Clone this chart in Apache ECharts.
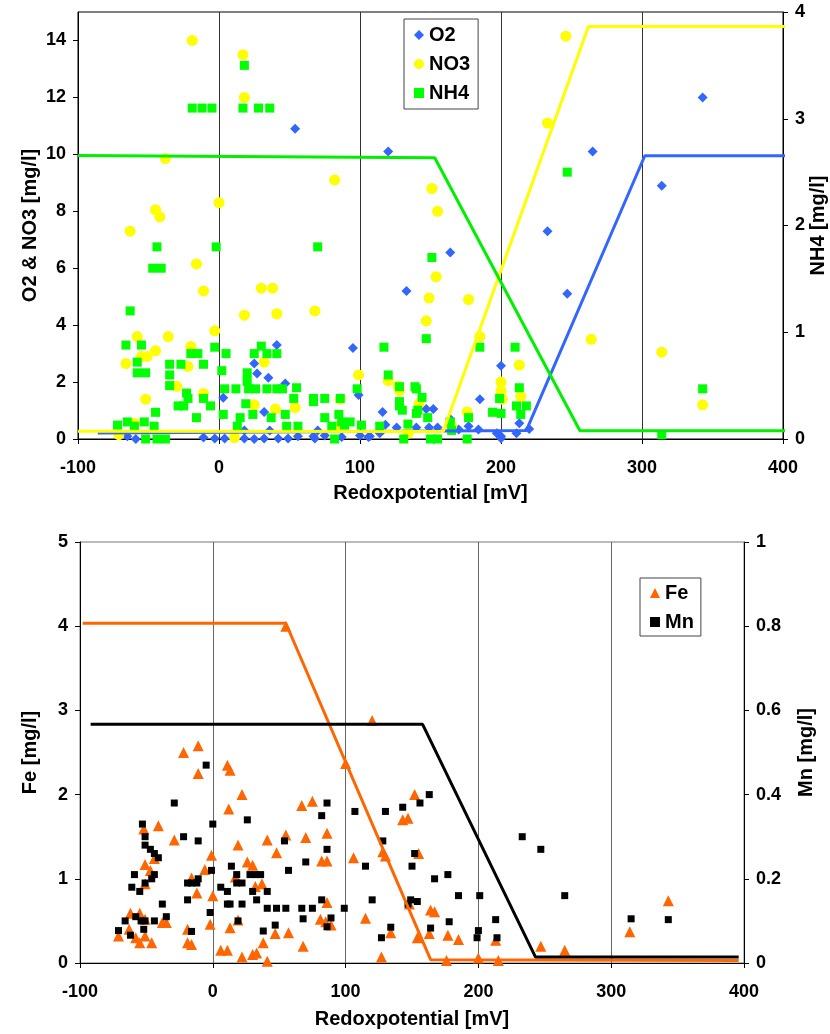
<!DOCTYPE html>
<html><head><meta charset="utf-8">
<script src="https://cdn.jsdelivr.net/npm/echarts@6/dist/echarts.min.js"></script>
<style>html,body{margin:0;padding:0;background:#fff}#c{width:830px;height:1034px}</style>
</head><body><div id="c"></div>
<script>
// ---------- Top chart data: [Redoxpotential mV, value] ----------
const o2Points = [
 [54,10.9],[120,10.1],[164,6.55],[133,5.2],[41,3.3],[95,3.2],[35,2.15],[47,1.95],[116,0.95],[99,1.55],
 [185,1.4],[147,1.05],[152,1.05],[265,10.1],[343,12.0],[314,8.9],[233,7.3],[247,5.1],[200,2.57],[213,0.55],
 [200,0.1],[25,2.65],[27,2.3],[3,1.45],[32,0.95],[-65,0.1],[-59,0],[-11,0.05],[-3,0.02],[4,0.02],
 [18,0.02],[25,0],[32,0.02],[42,0.02],[49,0.02],[56,0.1],[68,0.02],[75,0.12],[87,0.07],[100,0.12],
 [106,0.07],[70,0.3],[18,0.3],[36,0.3],[118,0.5],[114,0.2],[126,0.4],[107,0.1],[140,0.4],[149,0.4],
 [155,0.4],[170,0.33],[177,0.45],[197,0.2],[200,0.03],[211,0.2],[220,0.35],[164,0.7],[184,0.33],[67,0.1]
];
const no3Points = [
 [-19,14.0],[17,13.5],[18,12.0],[-38,9.85],[0,8.3],[-45,8.05],[-42,7.8],[-63,7.3],[-16,6.15],[-11,5.2],
 [30,5.3],[38,5.3],[18,4.35],[41,4.4],[68,4.5],[-3,3.8],[-58,3.6],[-36,3.6],[-20,3.25],[-45,3.1],
 [-51,2.9],[-55,2.9],[-66,2.65],[-22,2.55],[32,2.7],[-30,1.85],[-52,1.4],[-11,1.6],[25,1.2],[40,1.05],
 [54,1.1],[-71,0.15],[11,0.05],[-60,0.55],[99,2.25],[86,1.4],[85,0.45],[82,9.1],[151,8.8],[155,8.0],
 [154,5.7],[149,4.95],[177,4.9],[147,4.15],[185,3.6],[120,2.05],[127,1.85],[128,1.7],[176,0.95],[164,0.55],
 [142,1.25],[165,0.45],[134,0.2],[213,2.6],[200,2.0],[200,1.7],[201,1.4],[214,1.5],[246,14.15],[233,11.1],
 [264,3.5],[314,3.05],[343,1.2]
];
const nh4Points = [
 [18,3.5],[-19,3.1],[-12,3.1],[-5,3.1],[17,3.1],[28,3.1],[36,3.1],[-44,1.8],[-2,1.8],[-47,1.6],
 [-41,1.6],[-63,1.2],[-66,0.88],[-55,0.88],[-3,0.86],[5,0.8],[-20,0.8],[-15,0.8],[-58,0.72],[-35,0.7],
 [-27,0.7],[-11,0.7],[-58,0.62],[-52,0.62],[-35,0.6],[-35,0.5],[-23,0.43],[-22,0.38],[-11,0.38],[-29,0.31],
 [-25,0.31],[-6,0.31],[-45,0.25],[-16,0.2],[-72,0.13],[-65,0.16],[-53,0.16],[-46,0.12],[-60,0.12],[-52,0],
 [-44,0],[-38,0],[2,0.64],[4,0.47],[12,0.47],[3,0.23],[13,0.12],[15,0.2],[19,0.33],[21,0.47],
 [20,0.62],[20,0.54],[30,0.87],[25,0.8],[34,0.8],[41,0.8],[26,0.47],[34,0.47],[41,0.47],[45,0.47],
 [24,0.23],[37,0.2],[55,0.48],[98,0.47],[53,0.38],[67,0.38],[75,0.38],[86,0.38],[67,0.35],[47,0.23],
 [75,0.2],[85,0.23],[48,0.12],[56,0.12],[80,0.12],[87,0.16],[89,0.13],[93,0.16],[101,0.13],[82,0],
 [70,1.8],[151,1.7],[147,0.94],[117,0.86],[120,0.6],[128,0.49],[139,0.49],[140,0.47],[144,0.39],[128,0.35],
 [128,0.31],[130,0.27],[141,0.27],[140,0.24],[148,0.2],[177,0.2],[194,0.25],[200,0.24],[164,0.16],[114,0.12],
 [134,0.14],[131,0],[150,0],[155,0],[176,0],[185,0.86],[210,0.86],[213,0.48],[199,0.38],[211,0.31],
 [218,0.31],[214,0.23],[165,0.08],[343,0.47],[314,0.04],[247,2.5]
];
// trend lines (top)
const o2Trend  = [[-86,0.21],[218,0.3],[302,9.95],[405,9.95]];
const no3Trend = [[-100,0.27],[159,0.26],[262,14.49],[405,14.49]];
const nh4Trend = [[-100,2.656],[153,2.635],[256,0.078],[405,0.078]];

// ---------- Bottom chart data ----------
const fePoints = [
 [-11,2.58],[-22,2.5],[11,2.35],[13,2.29],[-11,2.25],[22,2.0],[12,1.83],[-41,1.63],[-52,1.59],[-29,1.46],
 [41,1.46],[19,1.4],[48,1.31],[-1,1.28],[-44,1.24],[-51,1.17],[-6,1.11],[-47,1.1],[26,1.2],[30,1.16],
 [-16,1.01],[17,1.02],[32,0.91],[37,0.94],[-51,0.94],[-12,0.83],[0,0.8],[-62,0.59],[-55,0.59],[-38,0.48],
 [-35,0.48],[-51,0.52],[-2,0.46],[19,0.51],[13,0.42],[-19,0.4],[47,0.35],[-63,0.4],[-71,0.32],[-58,0.3],
 [-51,0.32],[-55,0.24],[-46,0.24],[-19,0.24],[-16,0.22],[6,0.15],[11,0.15],[38,0.24],[22,0.07],[30,0.1],
 [33,0.12],[41,0.02],[120,2.88],[100,2.37],[152,2.0],[67,1.87],[75,1.92],[143,1.7],[147,1.72],[55,1.52],
 [70,1.49],[86,1.54],[82,1.21],[86,1.21],[106,1.25],[128,1.32],[130,1.27],[155,1.3],[86,0.72],[81,0.52],
 [85,0.49],[89,0.45],[115,0.53],[148,0.7],[164,0.63],[167,0.61],[57,0.36],[68,0.2],[134,0.36],[154,0.3],
 [163,0.35],[177,0.33],[185,0.28],[127,0.07],[176,0.03],[200,0.06],[213,0.27],[215,0.03],[247,0.2],[265,0.15],
 [314,0.37],[343,0.74],[55,4.0]
];
const mnPoints = [
 [-5,0.47],[-29,0.38],[26,0.34],[-53,0.33],[0,0.33],[-51,0.3],[-22,0.3],[-11,0.29],[-51,0.28],[-47,0.27],
 [-44,0.26],[-41,0.25],[14,0.23],[-59,0.21],[-44,0.21],[-46,0.2],[18,0.21],[28,0.21],[32,0.21],[36,0.21],
 [-1,0.22],[-11,0.2],[-19,0.19],[-16,0.19],[-12,0.19],[-51,0.19],[18,0.19],[22,0.19],[-61,0.18],[-55,0.17],
 [6,0.18],[11,0.17],[30,0.17],[41,0.17],[33,0.15],[-38,0.14],[-19,0.15],[11,0.14],[13,0.14],[22,0.14],
 [41,0.13],[48,0.13],[-2,0.12],[-58,0.11],[-54,0.1],[-51,0.1],[-44,0.1],[-35,0.11],[-66,0.1],[19,0.1],
 [47,0.09],[-52,0.08],[-71,0.077],[-16,0.075],[38,0.076],[-62,0.066],[86,0.38],[82,0.35],[107,0.36],[130,0.36],
 [143,0.37],[156,0.38],[163,0.4],[54,0.29],[86,0.27],[70,0.24],[57,0.22],[128,0.29],[152,0.26],[115,0.23],
 [150,0.23],[167,0.2],[177,0.21],[185,0.16],[201,0.16],[82,0.15],[120,0.15],[149,0.15],[154,0.146],[147,0.14],
 [55,0.13],[67,0.13],[75,0.13],[99,0.13],[68,0.105],[89,0.107],[86,0.086],[134,0.085],[178,0.098],[164,0.083],
 [127,0.06],[200,0.077],[199,0.06],[213,0.103],[214,0.06],[233,0.3],[247,0.27],[265,0.16],[315,0.105],[343,0.103]
];
const feTrend = [[-98,4.035],[55,4.035],[164,0.04],[396,0.03]];
const mnTrend = [[-92,0.567],[158,0.567],[243,0.014],[396,0.014]];

// ---------- Axis settings ----------
const xMin = -100, xMax = 400, xStep = 100;
const topLeftMax = 15, topLeftStep = 2;
const topRightMax = 4, topRightStep = 1;
const botLeftMax = 5, botLeftStep = 1;
const botRightMax = 1, botRightStep = 0.2;

const FONT = "'Liberation Sans', Arial, sans-serif";
const lbl = {fontFamily: FONT, fontWeight: 'bold', fontSize: 18, color: '#000'};
const nameStyle = {fontFamily: FONT, fontWeight: 'bold', fontSize: 20, color: '#000'};

function xAxis(gi, gridColor, margin, nameGap) {
  return {
    type: 'value', gridIndex: gi, min: xMin, max: xMax, interval: xStep,
    name: 'Redoxpotential [mV]', nameLocation: 'middle', nameGap: nameGap, nameTextStyle: nameStyle,
    nameMoveOverlap: false,
    axisLine: {show: true, onZero: false, lineStyle: {color: '#000', width: 1}},
    axisTick: {show: true, inside: false, length: 5, lineStyle: {color: '#000'}},
    axisLabel: Object.assign({margin: margin}, lbl),
    splitLine: {show: true, lineStyle: {color: gridColor, width: 1}}
  };
}
function yAxis(gi, pos, max, step, name, nameGap, extra) {
  return Object.assign({
    type: 'value', gridIndex: gi, position: pos, min: 0, max: max, interval: step,
    name: name, nameLocation: 'middle', nameGap: nameGap, nameTextStyle: nameStyle,
    nameMoveOverlap: false,
    axisLine: {show: true, onZero: false, lineStyle: {color: '#000', width: 1}},
    axisTick: {show: true, inside: false, length: 5, lineStyle: {color: '#000'}},
    axisLabel: Object.assign({margin: 12, showMaxLabel: true}, lbl),
    splitLine: {show: false}
  }, extra || {});
}

function scatter(name, data, xi, yi, symbol, size, color) {
  return {type: 'scatter', name: name, data: data, xAxisIndex: xi, yAxisIndex: yi,
    symbol: symbol, symbolSize: size, itemStyle: {color: color, opacity: 1}, silent: true};
}
function trend(name, data, xi, yi, color) {
  return {type: 'line', name: name, data: data, xAxisIndex: xi, yAxisIndex: yi, clip: false,
    showSymbol: false, symbol: 'none', silent: true, z: 3,
    lineStyle: {color: color, width: 3}, itemStyle: {color: color}};
}

const legendText = {fontFamily: FONT, fontWeight: 'bold', fontSize: 20, color: '#000'};

const option = {
  animation: false,
  backgroundColor: '#fff',
  grid: [
    {left: 78, top: 12, width: 705, height: 427, show: true, borderColor: '#000', borderWidth: 1,
     backgroundColor: 'transparent', containLabel: false, outerBoundsMode: 'none'},
    {left: 80, top: 542, width: 664, height: 421, show: true, borderColor: '#777', borderWidth: 1,
     backgroundColor: 'transparent', containLabel: false, outerBoundsMode: 'none'}
  ],
  legend: [
    {data: ['O2', 'NO3', 'NH4'], left: 404, top: 19, orient: 'vertical', itemWidth: 10, itemHeight: 10,
     itemGap: 9, padding: [6, 8, 6, 10], borderColor: '#444', borderWidth: 1, backgroundColor: '#fff',
     textStyle: legendText, selectedMode: false},
    {data: ['Fe', 'Mn'], left: 640, top: 578, orient: 'vertical', itemWidth: 10, itemHeight: 10,
     itemGap: 9, padding: [5, 7, 4, 10], borderColor: '#444', borderWidth: 1, backgroundColor: '#fff',
     textStyle: legendText, selectedMode: false}
  ],
  xAxis: [xAxis(0, '#333', 20, 44), xAxis(1, '#666', 20, 46)],
  yAxis: [
    yAxis(0, 'left', topLeftMax, topLeftStep, 'O2 & NO3 [mg/l]', 38, {axisLabel: Object.assign({margin: 12, showMaxLabel: false}, lbl)}),
    yAxis(0, 'right', topRightMax, topRightStep, 'NH4 [mg/l]', 25),
    yAxis(1, 'left', botLeftMax, botLeftStep, 'Fe [mg/l]', 40),
    yAxis(1, 'right', botRightMax, botRightStep, 'Mn [mg/l]', 52)
  ],
  series: [
    scatter('O2', o2Points, 0, 0, 'diamond', 10, '#3366ff'),
    scatter('NO3', no3Points, 0, 0, 'circle', 11, '#ffff00'),
    scatter('NH4', nh4Points, 0, 1, 'rect', 9, '#00ff00'),
    trend('O2 trend', o2Trend, 0, 0, '#3366ff'),
    trend('NO3 trend', no3Trend, 0, 0, '#ffff00'),
    trend('NH4 trend', nh4Trend, 0, 1, '#00ee00'),
    scatter('Fe', fePoints, 1, 2, 'triangle', 11, '#ff6600'),
    scatter('Mn', mnPoints, 1, 3, 'rect', 7, '#000000'),
    trend('Fe trend', feTrend, 1, 2, '#ff6600'),
    trend('Mn trend', mnTrend, 1, 3, '#000000')
  ]
};
const chart = echarts.init(document.getElementById('c'), null, {renderer: 'canvas'});
chart.setOption(option);
</script>
</body></html>
